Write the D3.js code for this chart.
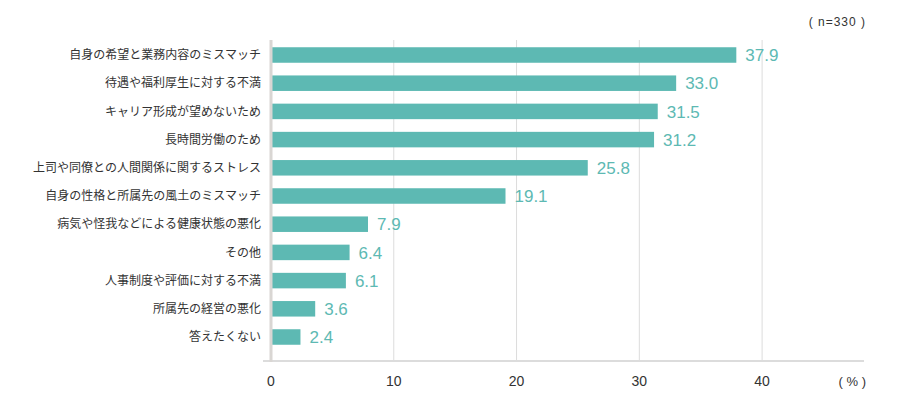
<!DOCTYPE html>
<html>
<head>
<meta charset="utf-8">
<script src="https://cdn.jsdelivr.net/npm/d3@7"></script>
<style>
  body { margin: 0; background: #fff; }
  svg { display: block; }
</style>
</head>
<body>
<div id="graph"></div>
<script>
// data
var categories = [
  "自身の希望と業務内容のミスマッチ",
  "待遇や福利厚生に対する不満",
  "キャリア形成が望めないため",
  "長時間労働のため",
  "上司や同僚との人間関係に関するストレス",
  "自身の性格と所属先の風土のミスマッチ",
  "病気や怪我などによる健康状態の悪化",
  "その他",
  "人事制度や評価に対する不満",
  "所属先の経営の悪化",
  "答えたくない"
];
var values = [37.9, 33.0, 31.5, 31.2, 25.8, 19.1, 7.9, 6.4, 6.1, 3.6, 2.4];
var ticks = [0, 10, 20, 30, 40];

var width = 900, height = 395;
var teal = "#5db9b3";
var jp = "'Noto Sans CJK JP', 'Noto Sans', sans-serif";
var num = "'Liberation Sans', Arial, sans-serif";

var svg = d3.select("#graph").append("svg")
  .attr("width", width)
  .attr("height", height);

var x = d3.scaleLinear().domain([0, 48.3]).range([271, 864]);
var y = d3.scaleBand().domain(categories).range([40.9, 351.1]).paddingInner(0.45).paddingOuter(0.225);

// gridlines
svg.append("g").selectAll("line")
  .data(ticks.slice(1))
  .enter().append("line")
  .attr("x1", function(d){ return x(d); })
  .attr("x2", function(d){ return x(d); })
  .attr("y1", 40)
  .attr("y2", 361)
  .attr("stroke", "#dcdcdc")
  .attr("stroke-width", 1);

// bottom axis line
svg.append("line")
  .attr("x1", 263).attr("x2", 864)
  .attr("y1", 361).attr("y2", 361)
  .attr("stroke", "#dcdcdc")
  .attr("stroke-width", 2);

// bars
svg.append("g").selectAll("rect")
  .data(values)
  .enter().append("rect")
  .attr("x", x(0) + 1)
  .attr("y", function(d, i){ return y(categories[i]); })
  .attr("width", function(d){ return x(d) - x(0) - 1; })
  .attr("height", y.bandwidth())
  .attr("fill", teal);

// zero line
svg.append("line")
  .attr("x1", x(0)).attr("x2", x(0))
  .attr("y1", 40).attr("y2", 362)
  .attr("stroke", "#d9d6d3")
  .attr("stroke-width", 3);

// category labels
svg.append("g").selectAll("text")
  .data(categories)
  .enter().append("text")
  .attr("x", 261)
  .attr("y", function(d){ return y(d) + y.bandwidth() / 2; })
  .attr("dy", "0.35em")
  .attr("text-anchor", "end")
  .style("font-family", jp)
  .style("font-size", "12px")
  .attr("fill", "#333")
  .text(function(d){ return d; });

// value labels
svg.append("g").selectAll("text")
  .data(values)
  .enter().append("text")
  .attr("x", function(d){ return x(d) + 9; })
  .attr("y", function(d, i){ return y(categories[i]) + y.bandwidth() / 2; })
  .attr("dy", "0.36em")
  .style("font-family", num)
  .style("font-size", "17px")
  .attr("fill", teal)
  .text(function(d){ return d.toFixed(1); });

// tick labels
svg.append("g").selectAll("text")
  .data(ticks)
  .enter().append("text")
  .attr("x", function(d){ return x(d); })
  .attr("y", 381)
  .attr("dy", "0.35em")
  .attr("text-anchor", "middle")
  .style("font-family", num)
  .style("font-size", "14px")
  .attr("fill", "#333")
  .text(function(d){ return d; });

svg.append("text")
  .attr("x", 866).attr("y", 381).attr("dy", "0.35em")
  .attr("text-anchor", "end")
  .style("font-family", num)
  .style("font-size", "13px")
  .attr("fill", "#333")
  .text("( % )");

svg.append("text")
  .attr("x", 866).attr("y", 22).attr("dy", "0.35em")
  .attr("text-anchor", "end")
  .style("font-family", num)
  .style("font-size", "12px")
  .style("letter-spacing", "1px")
  .attr("fill", "#333")
  .text("( n=330 )");
</script>
</body>
</html>
